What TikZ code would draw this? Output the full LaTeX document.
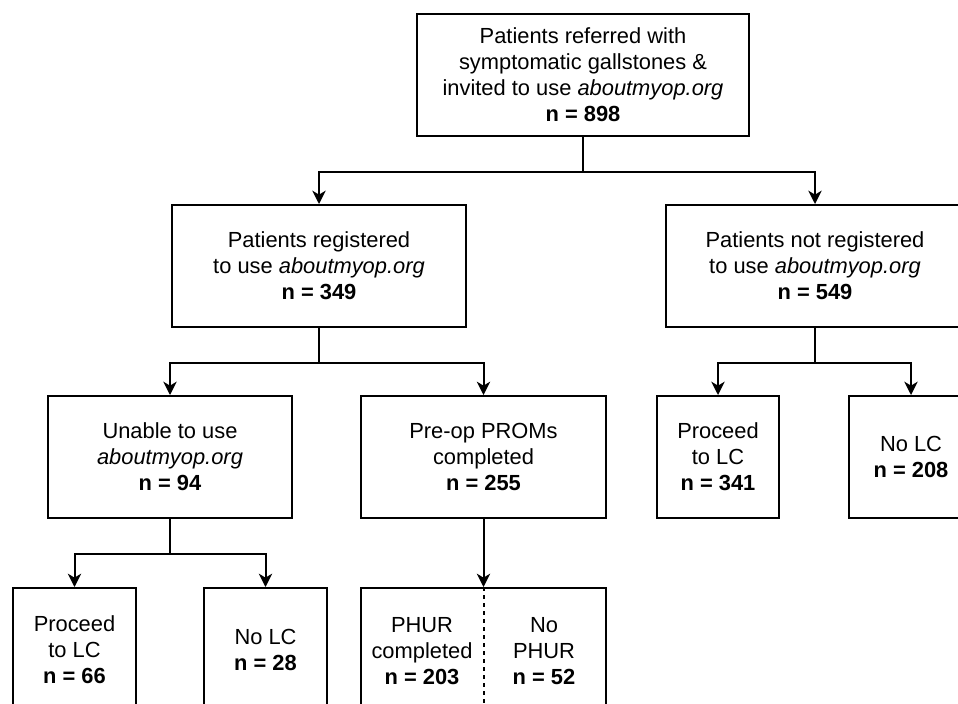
\documentclass[tikz,border=0pt]{standalone}
\usepackage{fontspec}
\setmainfont{Liberation Sans}
\usetikzlibrary{arrows.meta}
\begin{document}
\begin{tikzpicture}[x=0.75pt,y=-0.75pt]
\tikzstyle{b} = [draw,line width=1.5pt,inner sep=0pt,align=center,minimum height=91.5pt,font=\fontsize{16.4}{19.5}\selectfont]
\tikzstyle{t} = [inner sep=0pt,align=center,font=\fontsize{16.4}{19.5}\selectfont]
\tikzstyle{a} = [line width=1.5pt,-{Stealth[length=10pt,width=10pt,inset=3pt]}]
\def\ab{\textit{aboutmyop.org}}
\def\dy{35}
\useasboundingbox (0,0) rectangle (958,704);
\clip (0,0) rectangle (958,704);
% level 1
\node[b,minimum width=249pt] (ref) at (583,75) {Patients referred with\\symptomatic gallstones \&\\invited to use \ab\\\textbf{n = 898}};
% level 2
\node[b,minimum width=220.5pt] (reg) at (319,266) {Patients registered\\to use \ab\\\textbf{n = 349}};
\node[b,minimum width=223.5pt] (notreg) at (815,266) {Patients not registered\\to use \ab\\\textbf{n = 549}};
% level 3
\node[b,minimum width=183pt] (unable) at (170,457) {Unable to use\\\ab\\\textbf{n = 94}};
\node[b,minimum width=183.75pt] (preop) at (483.5,457) {Pre-op PROMs\\completed\\\textbf{n = 255}};
\node[b,minimum width=91.5pt] (procR) at (718,457) {Proceed\\to LC\\\textbf{n = 341}};
\node[b,minimum width=93pt] (nolcR) at (911,457) {No LC\\\textbf{n = 208}};
% level 4
\node[b,minimum width=92.25pt,minimum height=93pt] (procL) at (74.5,650) {Proceed\\to LC\\\textbf{n = 66}};
\node[b,minimum width=92.25pt,minimum height=93pt] (nolcL) at (265.5,650) {No LC\\\textbf{n = 28}};
\node[b,minimum width=183.75pt,minimum height=93pt] (phur) at (483.5,650) {};
\node[t] (phurL) at (422,651) {PHUR\\completed\\\textbf{n = 203}};
\node[t] (phurR) at (544,651) {No\\PHUR\\\textbf{n = 52}};
% connectors
\draw[a] (ref.south) -- ++(0,\dy) -| (reg.north);
\draw[a] (ref.south) -- ++(0,\dy) -| (notreg.north);
\draw[a] (reg.south) -- ++(0,\dy) -| (unable.north);
\draw[a] (reg.south) -- ++(0,\dy) -| (preop.north);
\draw[a] (notreg.south) -- ++(0,\dy) -| (procR.north);
\draw[a] (notreg.south) -- ++(0,\dy) -| (nolcR.north);
\draw[a] (unable.south) -- ++(0,\dy) -| (procL.north);
\draw[a] (unable.south) -- ++(0,\dy) -| (nolcL.north);
\draw[a] (preop) -- (phur);
\draw[line width=1.5pt,dash pattern=on 3pt off 3pt] (phur.north) -- (phur.south);
\end{tikzpicture}
\end{document}
